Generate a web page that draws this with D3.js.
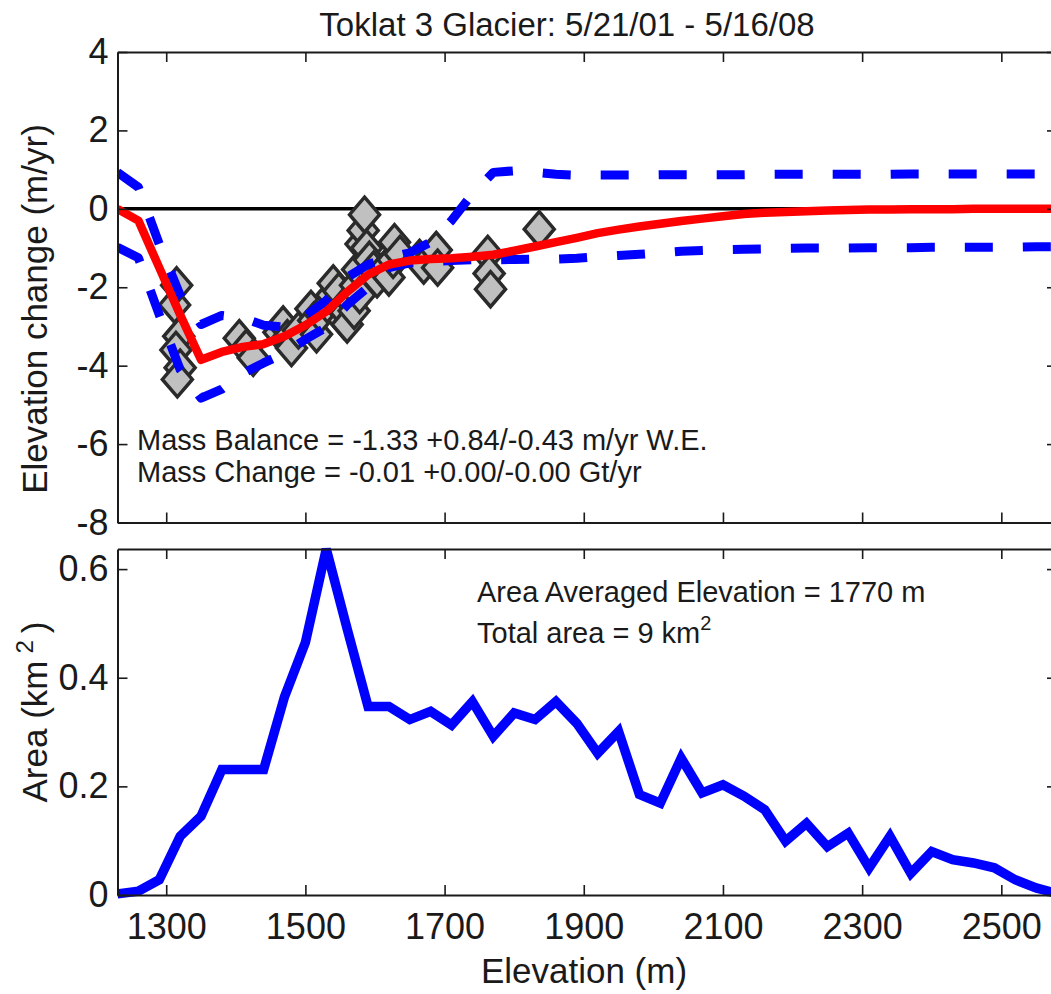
<!DOCTYPE html>
<html>
<head>
<meta charset="utf-8">
<script src="https://cdn.jsdelivr.net/npm/d3@7"></script>
<style>
  html, body { margin: 0; padding: 0; background: #ffffff; }
  svg { display: block; font-family: "Liberation Sans", Arial, sans-serif; }
</style>
</head>
<body>
<svg id="chart" width="1051" height="994"></svg>
<script>
// Elevation bins (m), 30 m spacing
const elevation = [1230, 1260, 1290, 1320, 1350, 1380, 1410, 1440, 1470, 1500,
  1530, 1560, 1590, 1620, 1650, 1680, 1710, 1740, 1770, 1800,
  1830, 1860, 1890, 1920, 1950, 1980, 2010, 2040, 2070, 2100,
  2130, 2160, 2190, 2220, 2250, 2280, 2310, 2340, 2370, 2400,
  2430, 2460, 2490, 2520, 2550, 2580];

// Smoothed elevation change (m/yr)
const dhFit = [0.0, -0.3, -1.5, -2.7, -3.85, -3.65, -3.52, -3.45, -3.25, -2.97,
  -2.62, -2.12, -1.68, -1.42, -1.32, -1.28, -1.26, -1.22, -1.17, -1.07,
  -0.96, -0.85, -0.74, -0.62, -0.53, -0.45, -0.38, -0.31, -0.25, -0.19,
  -0.13, -0.10, -0.08, -0.06, -0.04, -0.03, -0.02, -0.02, -0.01, -0.01,
  -0.01, 0.0, 0.0, 0.0, 0.0, 0.0];

// Upper and lower error envelope (m/yr)
const dhUpper = [0.93, 0.55, -0.9, -2.2, -2.95, -2.72, -2.78, -2.97, -3.02, -2.74,
  -2.34, -1.75, -1.42, -1.25, -1.12, -0.85, -0.3, 0.38, 0.93, 0.97,
  0.93, 0.88, 0.86, 0.86, 0.86, 0.86, 0.87, 0.87, 0.87, 0.87,
  0.87, 0.88, 0.88, 0.88, 0.88, 0.88, 0.88, 0.88, 0.89, 0.89,
  0.89, 0.89, 0.89, 0.89, 0.89, 0.89];
const dhLower = [-0.98, -1.25, -2.7, -4.1, -4.83, -4.6, -4.2, -3.93, -3.68, -3.33,
  -3.02, -2.45, -2.0, -1.5, -1.38, -1.34, -1.32, -1.3, -1.3, -1.29,
  -1.28, -1.28, -1.26, -1.22, -1.19, -1.16, -1.12, -1.08, -1.06, -1.04,
  -1.03, -1.02, -1.01, -1.0, -1.0, -1.0, -0.99, -0.99, -0.99, -0.98,
  -0.98, -0.98, -0.98, -0.98, -0.97, -0.97];

// Measured elevation change samples: elevation (m) and dh (m/yr)
const obsElev = [1312, 1315, 1318, 1314, 1320, 1316,
  1405, 1415, 1425, 1462, 1468, 1474, 1480, 1490,
  1508, 1512, 1516, 1522, 1532, 1538,
  1540, 1545, 1548, 1552, 1555, 1558, 1560, 1565, 1570, 1572,
  1575, 1578, 1580, 1583, 1585, 1588, 1592, 1598, 1603,
  1615, 1620, 1626, 1628, 1636, 1664, 1670, 1688, 1690,
  1762, 1764, 1766, 1836];
const obsDh = [-2.45, -1.95, -3.25, -3.6, -4.05, -4.35,
  -3.3, -3.55, -3.8, -3.15, -2.95, -3.3, -3.55, -3.1,
  -2.55, -2.85, -3.2, -2.7, -2.45, -2.2,
  -1.9, -2.4, -2.1, -2.55, -2.85, -2.65, -2.95, -2.35, -2.6, -1.95,
  -1.55, -2.2, -0.9, -0.55, -0.15, -1.0, -1.3, -1.55, -1.8,
  -1.5, -1.75, -1.3, -0.85, -1.15, -1.25, -1.45, -1.05, -1.5,
  -1.15, -1.65, -2.05, -0.52];

// Glacier area per elevation bin (km^2)
const area = [0.002, 0.007, 0.028, 0.108, 0.145, 0.231, 0.231, 0.231, 0.365, 0.465,
  0.637, 0.49, 0.347, 0.347, 0.323, 0.338, 0.313, 0.356, 0.292, 0.335,
  0.323, 0.356, 0.316, 0.261, 0.301, 0.185, 0.169, 0.252, 0.188, 0.203,
  0.182, 0.157, 0.099, 0.132, 0.089, 0.114, 0.050, 0.108, 0.040, 0.080,
  0.065, 0.059, 0.050, 0.028, 0.013, 0.003];

const xTicks = [1300, 1500, 1700, 1900, 2100, 2300, 2500];
const dhTicks = [-8, -6, -4, -2, 0, 2, 4];
const areaTicks = [0, 0.2, 0.4, 0.6];

const titleText = "Toklat 3 Glacier: 5/21/01 - 5/16/08";
const massBalanceText = "Mass Balance = -1.33 +0.84/-0.43 m/yr W.E.";
const massChangeText = "Mass Change = -0.01 +0.00/-0.00 Gt/yr";
const avgElevText = "Area Averaged Elevation = 1770 m";

const svg = d3.select("#chart");
const ink = "#1a1a1a";

const left = 117.5, right = 1057;
const x = d3.scaleLinear().domain([1230, 2580]).range([left, right]);
const yTop = d3.scaleLinear().domain([-8, 4]).range([522.5, 52]);
const yBot = d3.scaleLinear().domain([0, d3.max(area)]).range([895, 549]);

const tickFont = 36;

// tick labels use a plain hyphen for negatives
const intFmt = d => String(d);

function styleAxis(g) {
  g.selectAll("path.domain").attr("stroke", ink).attr("stroke-width", 2);
  g.selectAll(".tick line").attr("stroke", ink).attr("stroke-width", 1.6);
  g.selectAll(".tick text").attr("fill", ink).attr("font-size", tickFont)
    .attr("font-family", "'Liberation Sans', Arial, sans-serif");
}

function panel(yScale, yTickVals, yFmt, showXLabels) {
  const top = yScale.range()[1], bottom = yScale.range()[0];
  const gb = svg.append("g").attr("transform", `translate(0,${bottom})`)
    .call(d3.axisBottom(x).tickValues(xTicks).tickSize(-10).tickSizeOuter(0)
      .tickPadding(18).tickFormat(showXLabels ? intFmt : () => ""));
  styleAxis(gb);
  const gt = svg.append("g").attr("transform", `translate(0,${top})`)
    .call(d3.axisTop(x).tickValues(xTicks).tickSize(-10).tickSizeOuter(0).tickFormat(() => ""));
  styleAxis(gt);
  const gl = svg.append("g").attr("transform", `translate(${left},0)`)
    .call(d3.axisLeft(yScale).tickValues(yTickVals).tickSize(-10).tickSizeOuter(0)
      .tickPadding(9).tickFormat(yFmt));
  styleAxis(gl);
  const gr = svg.append("g").attr("transform", `translate(${right},0)`)
    .call(d3.axisRight(yScale).tickValues(yTickVals).tickSize(-10).tickSizeOuter(0).tickFormat(() => ""));
  styleAxis(gr);
}

// ---------- Upper panel: elevation change ----------
svg.append("clipPath").attr("id", "clipTop")
  .append("rect").attr("x", left).attr("y", yTop.range()[1])
  .attr("width", right - left).attr("height", yTop.range()[0] - yTop.range()[1]);

const plotTop = svg.append("g").attr("clip-path", "url(#clipTop)");

// zero reference line
plotTop.append("line")
  .attr("x1", x(1230)).attr("x2", x(2580))
  .attr("y1", yTop(0)).attr("y2", yTop(0))
  .attr("stroke", "#000").attr("stroke-width", 3.5);

// observed samples as diamonds
const hw = 15, hh = 17.5;
plotTop.selectAll("path.obs")
  .data(obsElev.map((e, i) => [e, obsDh[i]]))
  .join("path")
  .attr("class", "obs")
  .attr("transform", d => `translate(${x(d[0])},${yTop(d[1])})`)
  .attr("d", `M0,${-hh}L${hw},0L0,${hh}L${-hw},0Z`)
  .attr("fill", "#c0c0c0")
  .attr("stroke", "#2a2a2a")
  .attr("stroke-width", 3.5)
  .attr("stroke-linejoin", "miter");

const lineTop = d3.line().x((d, i) => x(elevation[i])).y(d => yTop(d));

[dhUpper, dhLower].forEach(series => {
  plotTop.append("path")
    .attr("d", lineTop(series))
    .attr("fill", "none")
    .attr("stroke", "#0000ff")
    .attr("stroke-width", 9)
    .attr("stroke-dasharray", "28,30")
    .attr("stroke-linejoin", "round");
});

plotTop.append("path")
  .attr("d", lineTop(dhFit))
  .attr("fill", "none")
  .attr("stroke", "#ff0000")
  .attr("stroke-width", 8.5)
  .attr("stroke-linejoin", "round");

panel(yTop, dhTicks, intFmt, false);

// ---------- Lower panel: area-altitude distribution ----------
const lineBot = d3.line().x((d, i) => x(elevation[i])).y(d => yBot(d));
svg.append("path")
  .attr("d", lineBot(area))
  .attr("fill", "none")
  .attr("stroke", "#0000ff")
  .attr("stroke-width", 9.5)
  .attr("stroke-linejoin", "miter")
  .attr("stroke-miterlimit", 3);

panel(yBot, areaTicks, d => d === 0 ? "0" : d3.format(".1f")(d), true);

// ---------- Text ----------
svg.append("text")
  .attr("x", 567).attr("y", 36)
  .attr("text-anchor", "middle")
  .attr("font-size", 33).attr("fill", ink)
  .text(titleText);

svg.append("text")
  .attr("transform", "translate(47,309) rotate(-90)")
  .attr("text-anchor", "middle")
  .attr("font-size", 35).attr("fill", ink)
  .text("Elevation change (m/yr)");

const areaLabel = svg.append("text")
  .attr("transform", "translate(47,712) rotate(-90)")
  .attr("text-anchor", "middle")
  .attr("font-size", 35).attr("fill", ink);
areaLabel.append("tspan").text("Area (km\u2009");
areaLabel.append("tspan").attr("font-size", 24).attr("dy", "-14").text("2");
areaLabel.append("tspan").attr("dy", "14").text("\u2009)");

svg.append("text")
  .attr("x", 584).attr("y", 983)
  .attr("text-anchor", "middle")
  .attr("font-size", 35).attr("fill", ink)
  .text("Elevation (m)");

svg.append("text")
  .attr("x", 137).attr("y", 450)
  .attr("font-size", 29).attr("fill", ink)
  .text(massBalanceText);
svg.append("text")
  .attr("x", 137).attr("y", 482)
  .attr("font-size", 29).attr("fill", ink)
  .text(massChangeText);

svg.append("text")
  .attr("x", 477).attr("y", 602)
  .attr("font-size", 29).attr("fill", ink)
  .text(avgElevText);
const totalArea = svg.append("text")
  .attr("x", 477).attr("y", 643)
  .attr("font-size", 29).attr("fill", ink);
totalArea.append("tspan").text("Total area = 9 km");
totalArea.append("tspan").attr("font-size", 20).attr("dy", -13).text("2");
</script>
</body>
</html>
